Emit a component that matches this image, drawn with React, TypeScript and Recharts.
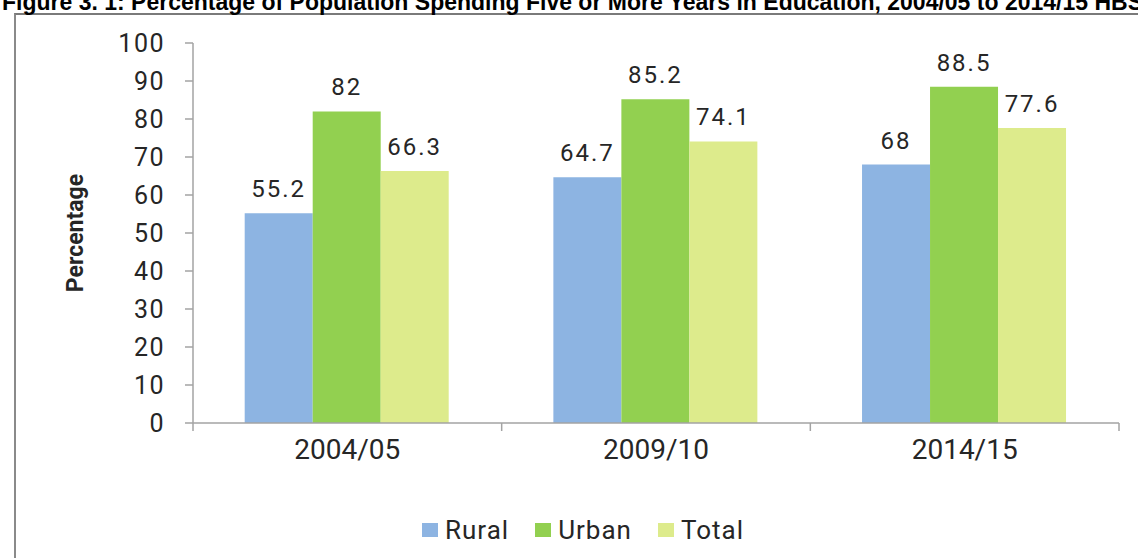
import React from 'react';
import { BarChart, Bar, XAxis, YAxis, Legend, LabelList } from 'recharts';

const categories = ['2004/05', '2009/10', '2014/15'];
const rural = [55.2, 64.7, 68];
const urban = [82, 85.2, 88.5];
const total = [66.3, 74.1, 77.6];
const yTicks = [0, 10, 20, 30, 40, 50, 60, 70, 80, 90, 100];
const seriesNames = ['Rural', 'Urban', 'Total'];
const seriesColors = ['#8DB4E2', '#92D050', '#DDEB8C'];
const titleText =
  'Figure 3. 1: Percentage of Population Spending Five or More Years in Education, 2004/05 to 2014/15 HBS';
const yLabel = 'Percentage';

const data = categories.map((c, i) => ({
  category: c,
  Rural: rural[i],
  Urban: urban[i],
  Total: total[i],
}));

const AXIS = '#a3a3a3';
const TEXT = '#262626';

const XTick = (props: any) => {
  const { x, y, payload, index, width, visibleTicksCount } = props;
  const half =
    payload && typeof payload.offset === 'number' && payload.offset > 0
      ? payload.offset
      : width / visibleTicksCount / 2;
  return (
    <g>
      {index === 0 && <line x1={x - half} x2={x - half} y1={y} y2={y + 8} stroke={AXIS} strokeWidth={1.5} />}
      <line x1={x + half} x2={x + half} y1={y} y2={y + 8} stroke={AXIS} strokeWidth={1.5} />
      <text
        x={x}
        y={y + 26}
        textAnchor="middle"
        dominantBaseline="central"
        fontFamily="Roboto"
        fontSize={28}
        fill={TEXT}
      >
        {payload.value}
      </text>
    </g>
  );
};

const YTick = (props: any) => {
  const { x, y, payload } = props;
  return (
    <text
      x={x + 2}
      y={y}
      textAnchor="end"
      dominantBaseline="central"
      fontFamily="Roboto"
      fontSize={25}
      letterSpacing={1.5}
      fill={TEXT}
    >
      {payload.value}
    </text>
  );
};

const YLabel = (props: any) => {
  const { viewBox } = props;
  const cx = viewBox.x + 75;
  const cy = viewBox.y + viewBox.height / 2;
  return (
    <text
      x={cx}
      y={cy}
      transform={`rotate(-90, ${cx}, ${cy})`}
      textAnchor="middle"
      dominantBaseline="central"
      fontFamily="Roboto"
      fontWeight="bold"
      fontSize={23}
      fill={TEXT}
    >
      {yLabel}
    </text>
  );
};

const LegendContent = () => (
  <div style={{ height: 30, position: 'relative' }}>
    <div
      style={{
        position: 'absolute',
        left: 422,
        top: 0,
        height: 30,
        display: 'flex',
        alignItems: 'center',
        fontFamily: 'Roboto',
        fontSize: 26,
        letterSpacing: 1,
        color: TEXT,
      }}
    >
      {seriesNames.map((n, i) => (
        <div key={n} style={{ display: 'flex', alignItems: 'center', marginRight: 26 }}>
          <div style={{ width: 16, height: 14, background: seriesColors[i], marginRight: 7 }} />
          <span>{n}</span>
        </div>
      ))}
    </div>
  </div>
);

export default function App() {
  return (
    <div
      style={{
        position: 'absolute',
        left: 0,
        top: 0,
        width: 1138,
        height: 558,
        overflow: 'hidden',
        background: '#ffffff',
      }}
    >
      <div
        style={{
          position: 'absolute',
          left: 14,
          top: 13,
          width: 1300,
          height: 700,
          borderTop: '2px solid #7a7a7a',
          borderLeft: '2px solid #8a8a8a',
        }}
      />
      <div style={{ position: 'absolute', left: 0, top: 0 }}>
        <BarChart
          width={1138}
          height={558}
          data={data}
          margin={{ top: 43, right: 19, left: 0, bottom: 13 }}
          barCategoryGap="16.75%"
          barGap={0}
        >
          <XAxis
            dataKey="category"
            height={92}
            axisLine={{ stroke: AXIS, strokeWidth: 1.5 }}
            tickLine={false}
            tickSize={0}
            tickMargin={0}
            tick={<XTick />}
            interval={0}
          />
          <YAxis
            width={193}
            domain={[0, 100]}
            ticks={yTicks}
            interval={0}
            axisLine={{ stroke: AXIS, strokeWidth: 1.5 }}
            tickLine={{ stroke: AXIS, strokeWidth: 1.5 }}
            tickSize={8}
            tickMargin={22}
            tick={<YTick />}
            label={<YLabel />}
          />
          <Legend
            verticalAlign="bottom"
            height={30}
            wrapperStyle={{ left: 0, width: 1138 }}
            content={<LegendContent />}
          />
          {seriesNames.map((n, i) => (
            <Bar key={n} dataKey={n} fill={seriesColors[i]} isAnimationActive={false}>
              <LabelList
                dataKey={n}
                position="top"
                offset={16}
                fontFamily="Roboto"
                fontSize={24}
                letterSpacing={2}
                fill={TEXT}
              />
            </Bar>
          ))}
        </BarChart>
      </div>
      <svg width={1138} height={30} style={{ position: 'absolute', left: 0, top: 0 }}>
        <text
          x={2}
          y={10}
          fontFamily="'Liberation Sans Narrow', 'Liberation Sans', Arial, sans-serif"
          fontWeight="bold"
          fontSize={24}
          textLength={1141}
          lengthAdjust="spacingAndGlyphs"
          fill="#000"
        >
          {titleText}
        </text>
      </svg>
    </div>
  );
}
